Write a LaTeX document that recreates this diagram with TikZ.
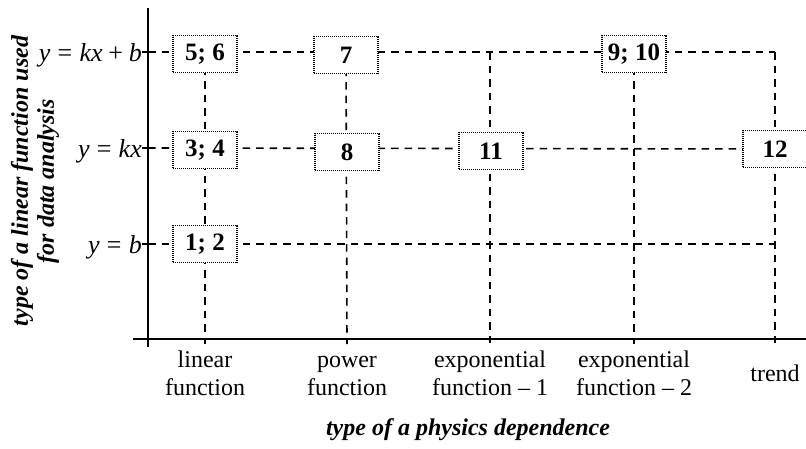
\documentclass[tikz,border=0pt]{standalone}
\usepackage{fontspec}
\setmainfont{Liberation Serif}
\usetikzlibrary{backgrounds}
\newcommand{\thk}{\hspace{0.278em}}
\newcommand{\med}{\hspace{0.222em}}
\begin{document}
\begin{tikzpicture}[x=1pt,y=-1pt,
  numbox/.style={draw, fill=white, line width=1.2pt, dash pattern=on 1pt off 1pt,
    minimum width=64pt, minimum height=37pt, inner sep=0pt,
    font=\fontsize{25}{28}\selectfont\bfseries},
  gridline/.style={line width=1.6pt, dash pattern=on 7.5pt off 6pt},
  axisline/.style={line width=1.7pt},
  lbl/.style={inner sep=0pt, font=\fontsize{24}{28}\selectfont},
  rowlbl/.style={inner sep=0pt, anchor=base east, font=\fontsize{26}{28}\selectfont},
  collbl/.style={lbl, align=center, anchor=north},
  ttl/.style={inner sep=0pt, font=\fontsize{24}{26}\selectfont\bfseries\itshape}
]
\useasboundingbox (0,0) rectangle (806,448);

% grid coordinates
\coordinate (ay3) at (148,52);
\coordinate (ay2) at (148,148);
\coordinate (ay1) at (148,244);
\coordinate (ax1) at (205,344);
\coordinate (ax2) at (347,344);
\coordinate (ax3) at (490,344);
\coordinate (ax4) at (634,344);
\coordinate (ax5) at (775,344);
\coordinate (c3top) at (490,52);
\coordinate (c5top) at (775,52);
\coordinate (c5b) at (775,244);

% boxes
\node[numbox] (n56) at (205,54) {5; 6};
\node[numbox] (n34) at (205,150) {3; 4};
\node[numbox] (n12b) at (205,244) {1; 2};
\node[numbox] (n7) at (346,55) {7};
\node[numbox] (n8) at (347,152) {8};
\node[numbox] (n11) at (491,151) {11};
\node[numbox] (n910) at (634,54) {9; 10};
\node[numbox] (n12) at (775,149) {12};

\begin{pgfonlayer}{background}
  \draw[gridline] (ay3) -- (c5top);
  \draw[gridline] (ay2) -- (n12.center);
  \draw[gridline] (ay1) -- (c5b);
  \draw[gridline] (n56.center) -- (ax1);
  \draw[gridline] (n7.center) -- (ax2);
  \draw[gridline] (c3top) -- (ax3);
  \draw[gridline] (n910.center) -- (ax4);
  \draw[gridline] (c5top) -- (ax5);
\end{pgfonlayer}

% axes
\coordinate (ytop) at (148,8);
\coordinate (ybot) at (148,347);
\coordinate (xl) at (133,339);
\coordinate (xr) at (806,339);
\draw[axisline] (ytop) -- (ybot);
\draw[axisline] (xl) -- (xr);
\foreach \yy in {52,148,244}{
  \coordinate (tl) at (142,\yy);
  \coordinate (tr) at (155,\yy);
  \draw[line width=1.3pt] (tl) -- (tr);
}

% row labels
\node[rowlbl] (r3) at (142,61) {\textit{y}\thk=\thk\textit{kx}\med+\med\textit{b}};
\node[rowlbl] (r2) at (142,157) {\textit{y}\thk=\thk\textit{kx}};
\node[rowlbl] (r1) at (142,253) {\textit{y}\thk=\thk\textit{b}};

% column labels
\node[collbl] (l1) at (205,347.5) {\strut linear\\function};
\node[collbl] (l2) at (347,347.5) {\strut power\\function};
\node[collbl] (l3) at (490,347.5) {\strut exponential\\function -- 1};
\node[collbl] (l4) at (634,347.5) {\strut exponential\\function -- 2};
\node[lbl, anchor=base] (l5) at (775,381) {trend};

% axis titles
\node[ttl, anchor=base] (xt) at (468,435) {type of a physics dependence};
\node[ttl, rotate=90, align=center] (yt) at (35,181) {type of a linear function used\\for data analysis};
\end{tikzpicture}
\end{document}
